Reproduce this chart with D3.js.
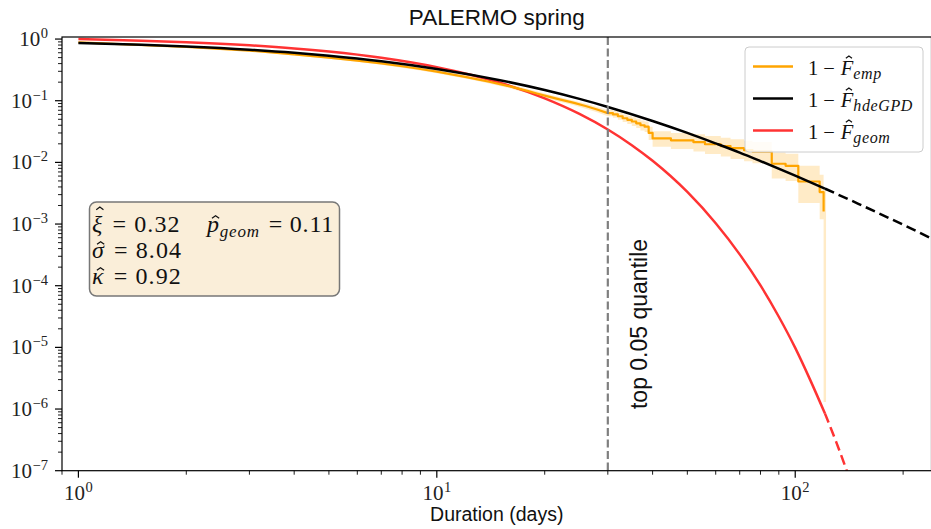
<!DOCTYPE html>
<html>
<head>
<meta charset="utf-8">
<script src="https://cdn.jsdelivr.net/npm/d3@7"></script>
<style>
  body { margin: 0; background: #fff; }
  svg { display: block; }
</style>
</head>
<body>
<div id="chart"></div>
<script>
// ---- data ----
var hdeDays = [1, 1.5, 2, 3, 4, 5, 7, 10, 15, 20, 25, 30, 40, 50, 60, 70, 80, 100, 121];
var hdeSurv = [0.863, 0.809, 0.759, 0.673, 0.600, 0.537, 0.437, 0.328, 0.215, 0.149, 0.107, 0.0793, 0.0470, 0.0301, 0.0203, 0.0144, 0.0105, 0.0061, 0.00376];
var hdeTailDays = [121, 150, 200, 250];
var hdeTailSurv = [0.00376, 0.00213, 0.000974, 0.00052];

var geomDays = [1, 1.5, 2, 3, 4, 5, 7, 10, 15, 20, 25, 30, 35, 40, 50, 60, 70, 80, 90, 100, 110, 121];
var geomSurv = [1, 0.943, 0.89, 0.792, 0.705, 0.627, 0.497, 0.350, 0.196, 0.109, 0.0610, 0.0341, 0.0190, 0.0106, 0.00331, 0.00103, 0.000322, 0.000101, 0.0000314, 0.0000098, 0.0000030, 0.00000085];
var geomTailDays = [121, 130, 140];
var geomTailSurv = [0.00000085, 0.000000296, 0.000000092];

// empirical curve, body (dense, drawn as a line)
var empDays = [1, 2, 3, 4, 5, 6, 7, 8, 9, 10, 11, 12, 13, 14, 15, 16, 17, 18, 19, 20,
  22, 24, 26, 28, 30];
var empSurv = [0.885, 0.745, 0.65, 0.565, 0.5, 0.447, 0.402, 0.362, 0.327, 0.296, 0.267, 0.244, 0.222, 0.203, 0.186, 0.171, 0.156, 0.143, 0.131, 0.121,
  0.105, 0.093, 0.082, 0.072, 0.063];
var empLow = [0.865, 0.722, 0.628, 0.543, 0.479, 0.427, 0.383, 0.344, 0.31, 0.28, 0.252, 0.229, 0.208, 0.19, 0.173, 0.159, 0.144, 0.132, 0.12, 0.111,
  0.096, 0.085, 0.074, 0.065, 0.056];
var empHigh = [0.905, 0.768, 0.672, 0.587, 0.521, 0.467, 0.421, 0.38, 0.344, 0.312, 0.282, 0.259, 0.236, 0.216, 0.199, 0.183, 0.168, 0.154, 0.142, 0.131,
  0.114, 0.101, 0.09, 0.079, 0.071];

// empirical curve, sparse tail (drawn as steps)
var tailDays = [30, 31, 32, 33, 34, 35, 36, 37, 38, 39, 40, 45, 52, 56, 62, 66, 72, 76, 86, 94, 102, 117, 120];
var tailSurv = [0.063, 0.060, 0.056, 0.052, 0.049, 0.046, 0.043, 0.040, 0.038, 0.030, 0.0245, 0.0228, 0.0213, 0.0197, 0.0183, 0.0170, 0.0158, 0.0150, 0.0095, 0.0088, 0.0049, 0.0033, 0.0016];
var tailLow = [0.056, 0.053, 0.049, 0.045, 0.042, 0.039, 0.036, 0.033, 0.031, 0.023, 0.018, 0.0165, 0.015, 0.0137, 0.0125, 0.0114, 0.0104, 0.0097, 0.0055, 0.005, 0.0022, 0.0012, 0.0000013];
var tailHigh = [0.071, 0.068, 0.064, 0.060, 0.057, 0.054, 0.051, 0.048, 0.046, 0.038, 0.032, 0.030, 0.0285, 0.0268, 0.0252, 0.0238, 0.0225, 0.0215, 0.0145, 0.0138, 0.0088, 0.0063, 0.0036];
var bandEndDay = 121.9;

var quantileDay = 30;
var xMajor = [1, 10, 100];
var yMajor = [1e-7, 1e-6, 1e-5, 1e-4, 1e-3, 1e-2, 1e-1, 1];
var paramNames = ["ξ", "σ", "κ"];
var paramValues = ["0.32", "8.04", "0.92"];
var pGeom = "0.11";
var legendSubs = ["emp", "hdeGPD", "geom"];

// ---- layout ----
var width = 931, height = 529;
var pl = 62, pr = 931.5, pt = 37, pb = 470.7;

var x = d3.scaleLog().domain([0.9, 240]).range([pl, pr]);
var y = d3.scaleLog().domain([1e-7, 1.08]).range([pb, pt]);

var svg = d3.select("#chart").append("svg")
    .attr("width", width)
    .attr("height", height);

svg.append("clipPath").attr("id", "clip")
  .append("rect")
    .attr("x", pl).attr("y", pt)
    .attr("width", pr - pl).attr("height", pb - pt);

var serif = "'Liberation Serif', 'DejaVu Serif', serif";
var sans = "'Liberation Sans', Arial, sans-serif";

// minor ticks
var xMinor = [], yMinor = [];
[0.1, 1, 10, 100].forEach(function(b) {
    for (var m = 2; m <= 9; m++) {
        var v = b * m;
        if (v >= 0.9 && v <= 240) xMinor.push(v);
    }
});
yMajor.forEach(function(b) {
    for (var m = 2; m <= 9; m++) {
        var v = b * m;
        if (v <= 1.08) yMinor.push(v);
    }
});

var axes = svg.append("g");

axes.selectAll(".xmaj").data(xMajor).enter().append("line")
    .attr("x1", d => x(d)).attr("x2", d => x(d))
    .attr("y1", pb).attr("y2", pb + 7)
    .attr("stroke", "#000").attr("stroke-width", 1.2);
axes.selectAll(".xmin").data(xMinor).enter().append("line")
    .attr("x1", d => x(d)).attr("x2", d => x(d))
    .attr("y1", pb).attr("y2", pb + 4)
    .attr("stroke", "#000").attr("stroke-width", 0.9);
axes.selectAll(".ymaj").data(yMajor).enter().append("line")
    .attr("x1", pl - 7).attr("x2", pl)
    .attr("y1", d => y(d)).attr("y2", d => y(d))
    .attr("stroke", "#000").attr("stroke-width", 1.2);
axes.selectAll(".ymin").data(yMinor).enter().append("line")
    .attr("x1", pl - 4).attr("x2", pl)
    .attr("y1", d => y(d)).attr("y2", d => y(d))
    .attr("stroke", "#000").attr("stroke-width", 0.9);

function expLabel(sel, e) {
    sel.append("tspan").text("10");
    sel.append("tspan").attr("dy", -8).attr("dx", 0.5).attr("font-size", 14.5)
        .text(e < 0 ? "\u2212" + (-e) : String(e));
}

axes.selectAll(".ylab").data(yMajor).enter().append("text")
    .attr("x", 48).attr("y", d => y(d) + 7)
    .attr("text-anchor", "end")
    .attr("font-family", serif).attr("font-size", 21).attr("fill", "#222")
    .each(function(d) { expLabel(d3.select(this), Math.round(Math.log10(d))); });

axes.selectAll(".xlab").data(xMajor).enter().append("text")
    .attr("x", d => x(d)).attr("y", 500)
    .attr("text-anchor", "middle")
    .attr("font-family", serif).attr("font-size", 21).attr("fill", "#222")
    .each(function(d) { expLabel(d3.select(this), Math.round(Math.log10(d))); });

// ---- marks ----
var plot = svg.append("g").attr("clip-path", "url(#clip)");

function rows(days, s, lo, hi) {
    return days.map(function(d, i) { return { day: d, s: s[i], lo: lo[i], hi: hi[i] }; });
}
var body = rows(empDays, empSurv, empLow, empHigh);
var tail = rows(tailDays, tailSurv, tailLow, tailHigh);
var tailEnd = tail[tail.length - 1];
var tailBand = tail.concat([{ day: bandEndDay, s: tailEnd.s, lo: tailEnd.lo, hi: tailEnd.hi }]);

var bandArea = d3.area().x(d => x(d.day)).y0(d => y(d.lo)).y1(d => y(d.hi));
plot.append("path").datum(body)
    .attr("d", bandArea)
    .attr("fill", "#ffa500").attr("fill-opacity", 0.22);
plot.append("path").datum(tailBand)
    .attr("d", bandArea.curve(d3.curveStepAfter))
    .attr("fill", "#ffa500").attr("fill-opacity", 0.22);

var smooth = d3.line().x(d => x(d[0])).y(d => y(d[1])).curve(d3.curveMonotoneX);
function pairs(a, b) { return a.map(function(v, i) { return [v, b[i]]; }); }

// red geometric
plot.append("path").datum(pairs(geomDays, geomSurv))
    .attr("d", smooth).attr("fill", "none")
    .attr("stroke", "#ff3333").attr("stroke-width", 2.5);
plot.append("path").datum(pairs(geomTailDays, geomTailSurv))
    .attr("d", smooth).attr("fill", "none")
    .attr("stroke", "#ff3333").attr("stroke-width", 2.5)
    .attr("stroke-dasharray", "10,5");

// orange empirical
var empLine = d3.line().x(d => x(d.day)).y(d => y(d.s));
plot.append("path").datum(body)
    .attr("d", empLine)
    .attr("fill", "none").attr("stroke", "#ffa500").attr("stroke-width", 2.2)
    .attr("stroke-linejoin", "round");
plot.append("path").datum(tail)
    .attr("d", empLine.curve(d3.curveStepAfter))
    .attr("fill", "none").attr("stroke", "#ffa500").attr("stroke-width", 2.2)
    .attr("stroke-linejoin", "round");

// black hdeGPD
plot.append("path").datum(pairs(hdeDays, hdeSurv))
    .attr("d", smooth).attr("fill", "none")
    .attr("stroke", "#000").attr("stroke-width", 2.5);
plot.append("path").datum(pairs(hdeTailDays, hdeTailSurv))
    .attr("d", smooth).attr("fill", "none")
    .attr("stroke", "#000").attr("stroke-width", 2.5)
    .attr("stroke-dasharray", "10,5");

// quantile marker
plot.append("line")
    .attr("x1", x(quantileDay)).attr("x2", x(quantileDay))
    .attr("y1", pt).attr("y2", pb)
    .attr("stroke", "#7f7f7f").attr("stroke-width", 2.2)
    .attr("stroke-dasharray", "8,3.5");

svg.append("text")
    .attr("transform", "translate(647,324) rotate(-90)")
    .attr("text-anchor", "middle")
    .attr("font-family", sans).attr("font-size", 23).attr("fill", "#111")
    .text("top 0.05 quantile");

// frame
svg.append("rect")
    .attr("x", pl).attr("y", pt)
    .attr("width", pr - pl).attr("height", pb - pt)
    .attr("fill", "none").attr("stroke", "#000").attr("stroke-width", 1.2);

// title and axis label
svg.append("text")
    .attr("x", (pl + pr) / 2).attr("y", 25)
    .attr("text-anchor", "middle")
    .attr("font-family", sans).attr("font-size", 22.5).attr("fill", "#111")
    .text("PALERMO spring");

svg.append("text")
    .attr("x", (pl + pr) / 2).attr("y", 521)
    .attr("text-anchor", "middle")
    .attr("font-family", sans).attr("font-size", 19.5).attr("fill", "#111")
    .text("Duration (days)");

// draw a hat above the first character of a tspan
function addHat(g, tspanNode, baseY, size, rise) {
    var ext = tspanNode.getExtentOfChar(0);
    var cx = ext.x + ext.width / 2 + size * 0.09;
    var w = size * 0.3, h = size * 0.11;
    var topY = baseY - rise * size;
    g.append("path")
        .attr("d", "M" + (cx - w / 2) + "," + (topY + h) + "L" + cx + "," + topY + "L" + (cx + w / 2) + "," + (topY + h))
        .attr("fill", "none").attr("stroke", "#111").attr("stroke-width", 1.2);
}

// ---- parameter box ----
var pbox = svg.append("g");
pbox.append("rect")
    .attr("x", 89.5).attr("y", 202).attr("width", 250).attr("height", 94)
    .attr("rx", 7).attr("ry", 7)
    .attr("fill", "#faeed9").attr("stroke", "#777").attr("stroke-width", 1.5);

var boxFont = 24;
paramNames.forEach(function(name, i) {
    var by = 232 + i * 26;
    var t = pbox.append("text")
        .attr("x", 92).attr("y", by)
        .attr("font-family", serif).attr("font-size", boxFont).attr("fill", "#111")
        .attr("letter-spacing", 1.1);
    var sym = t.append("tspan").attr("font-style", "italic").text(name);
    t.append("tspan").attr("dx", 2).text(" = " + paramValues[i]);
    addHat(pbox, sym.node(), by, boxFont, i === 0 ? 1.04 : 0.68);
});
var pg = pbox.append("text")
    .attr("x", 207).attr("y", 232)
    .attr("font-family", serif).attr("font-size", boxFont).attr("fill", "#111")
    .attr("letter-spacing", 0.8);
var psym = pg.append("tspan").attr("font-style", "italic").text("p");
pg.append("tspan").attr("font-style", "italic").attr("font-size", 17).attr("dy", 5).text("geom");
pg.append("tspan").attr("dy", -5).attr("dx", 2).text(" = " + pGeom);
addHat(pbox, psym.node(), 232, boxFont, 0.68);

// ---- legend ----
var legendColors = ["#ffa500", "#000", "#ff3333"];
var legend = svg.append("g");
legend.append("rect")
    .attr("x", 745).attr("y", 47).attr("width", 178).attr("height", 105)
    .attr("rx", 4).attr("ry", 4)
    .attr("fill", "#fff").attr("fill-opacity", 0.85)
    .attr("stroke", "#ccc").attr("stroke-width", 1);

var legFont = 20.5;
legendSubs.forEach(function(sub, i) {
    var ly = 66.5 + i * 32;
    legend.append("line")
        .attr("x1", 753).attr("x2", 793)
        .attr("y1", ly).attr("y2", ly)
        .attr("stroke", legendColors[i]).attr("stroke-width", 2.5);
    var t = legend.append("text")
        .attr("x", 808).attr("y", ly + 8)
        .attr("font-family", serif).attr("font-size", legFont).attr("fill", "#111");
    t.append("tspan").text("1");
    t.append("tspan").attr("dx", 5).text("\u2212");
    var f = t.append("tspan").attr("dx", 6).attr("font-style", "italic").text("F");
    t.append("tspan").attr("font-style", "italic").attr("font-size", 16).attr("dy", 4).attr("letter-spacing", 0.6).text(sub);
    addHat(legend, f.node(), ly + 8, legFont, 0.9);
});
</script>
</body>
</html>
